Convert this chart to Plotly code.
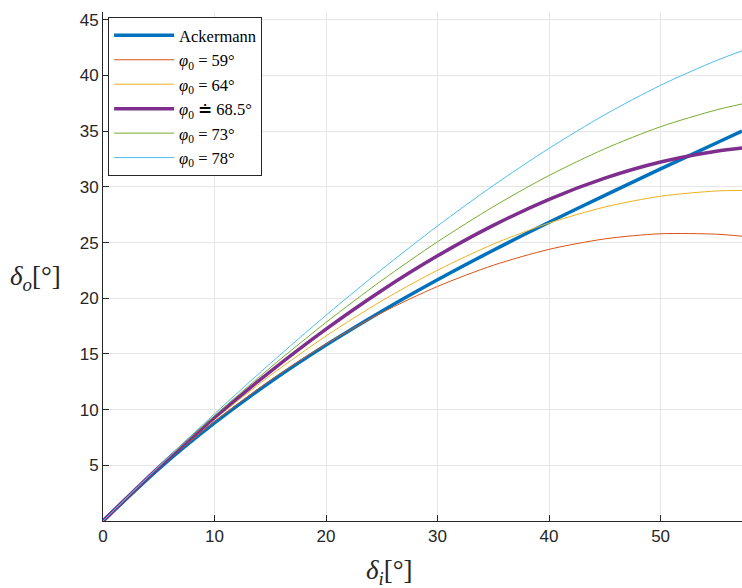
import plotly.graph_objects as go

delta_i = [0, 5, 10, 15, 20, 25, 30, 35, 40, 45, 50, 55, 57.3]

ackermann = [0, 4.68, 8.80, 12.48, 15.80, 18.84, 21.66, 24.31, 26.82, 29.24, 31.61, 33.94, 35.00]
phi_59 = [0, 4.72, 8.93, 12.63, 15.89, 18.70, 21.06, 22.96, 24.39, 25.33, 25.79, 25.75, 25.57]
phi_64 = [0, 4.77, 9.12, 13.06, 16.61, 19.77, 22.52, 24.86, 26.75, 28.19, 29.16, 29.63, 29.68]
phi_685 = [0, 4.82, 9.29, 13.42, 17.23, 20.70, 23.81, 26.54, 28.88, 30.78, 32.23, 33.20, 33.48]
phi_73 = [0, 4.86, 9.45, 13.77, 17.83, 21.60, 25.07, 28.22, 31.02, 33.42, 35.40, 36.91, 37.44]
phi_78 = [0, 4.90, 9.62, 14.14, 18.47, 22.59, 26.49, 30.12, 33.46, 36.48, 39.12, 41.34, 42.21]

names = ["Ackermann",
         "<i>φ</i><sub>0</sub> = 59°",
         "<i>φ</i><sub>0</sub> = 64°",
         "<i>φ</i><sub>0</sub> ≐ 68.5°",
         "<i>φ</i><sub>0</sub> = 73°",
         "<i>φ</i><sub>0</sub> = 78°"]
series = [ackermann, phi_59, phi_64, phi_685, phi_73, phi_78]
colors = ["#0072BD", "#D95319", "#EDB120", "#7E2F8E", "#77AC30", "#4DBEEE"]
widths = [3.5, 1, 1, 3.5, 1, 1]

x_ticks = [0, 10, 20, 30, 40, 50]
y_ticks = [5, 10, 15, 20, 25, 30, 35, 40, 45]

fig = go.Figure()
for name, ys, c, w in zip(names, series, colors, widths):
    fig.add_trace(go.Scatter(x=delta_i, y=ys, mode="lines", name=name,
                             line=dict(color=c, width=w, shape="spline", smoothing=0.8)))

axis_common = dict(showgrid=True, gridcolor="#e6e6e6", gridwidth=1,
                   showline=True, linecolor="#262626", linewidth=1,
                   ticks="inside", ticklen=6, tickcolor="#262626",
                   tickfont=dict(family="Liberation Sans, Arial", size=17, color="#262626"),
                   zeroline=False, mirror=False)

fig.update_xaxes(range=[0, 57.3], tickvals=x_ticks, **axis_common)
fig.update_yaxes(range=[0, 45.7], tickvals=y_ticks, **axis_common)

fig.add_annotation(text="<i>δ</i><sub><i>o</i></sub>[°]", xref="paper", yref="paper",
                   x=-0.105, y=0.478, showarrow=False, xanchor="center", yanchor="middle",
                   font=dict(family="Liberation Serif, serif", size=27, color="#262626"))
fig.add_annotation(text="<i>δ</i><sub><i>i</i></sub>[°]", xref="paper", yref="paper",
                   x=0.449, y=-0.1, showarrow=False, xanchor="center", yanchor="middle",
                   font=dict(family="Liberation Serif, serif", size=27, color="#262626"))

fig.update_layout(
    width=742, height=588,
    margin=dict(l=103, r=0, t=12, b=67),
    plot_bgcolor="white", paper_bgcolor="white",
    legend=dict(x=0.008, y=0.99, xanchor="left", yanchor="top",
                bgcolor="white", bordercolor="#262626", borderwidth=1,
                font=dict(family="Liberation Serif, serif", size=16.5, color="#000000"),
                itemwidth=60, tracegroupgap=0),
)

fig.write_html("out.html", config={"displayModeBar": False},
               post_script="document.body.style.margin='0';document.body.style.overflow='hidden';")
